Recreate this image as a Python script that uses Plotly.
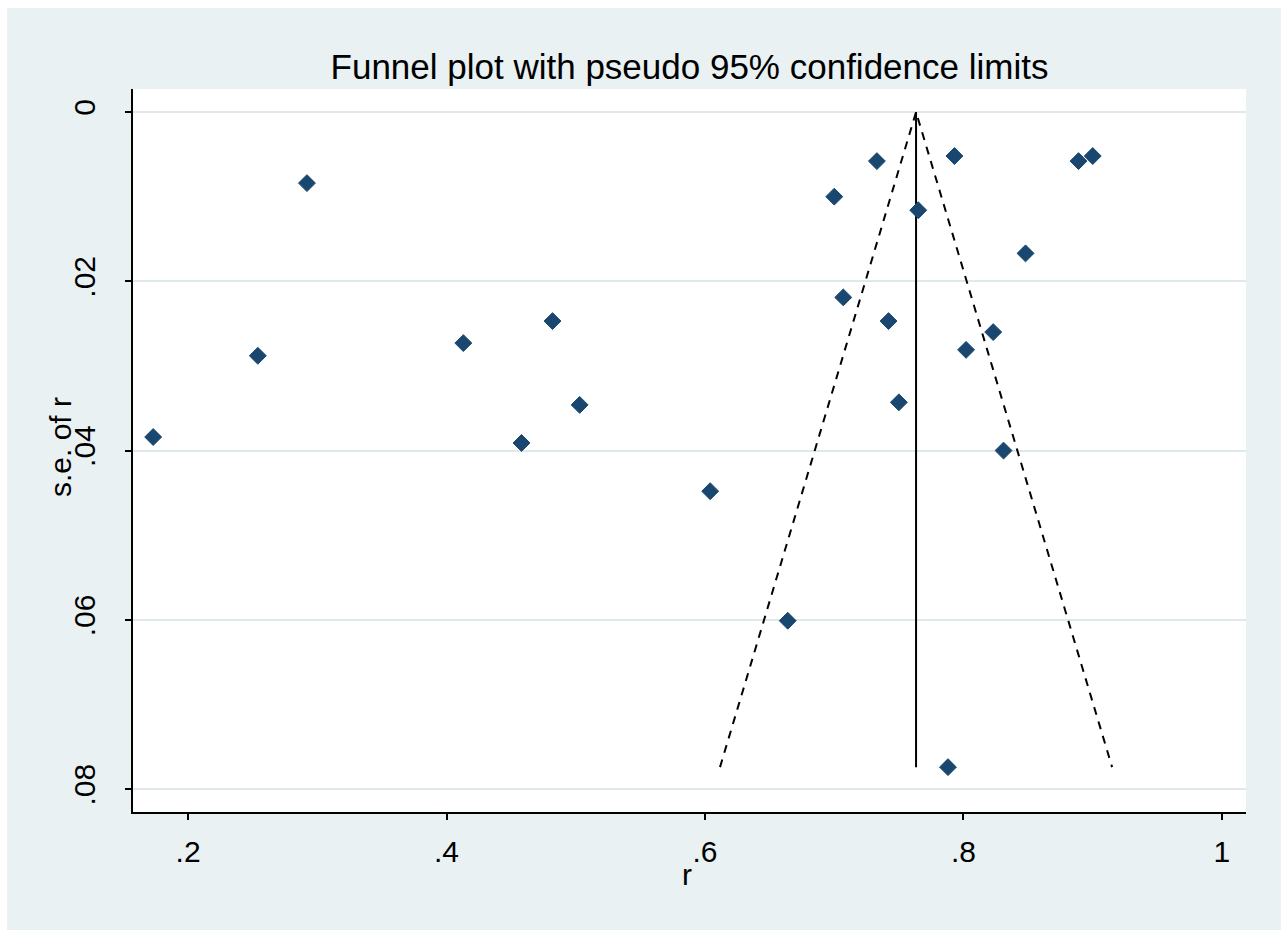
import plotly.graph_objects as go

# Study effect sizes (r) and their standard errors
r_values = [0.173, 0.254, 0.292, 0.413, 0.458, 0.482, 0.503, 0.604, 0.664,
            0.700, 0.707, 0.733, 0.742, 0.750, 0.765, 0.788, 0.793, 0.802,
            0.823, 0.831, 0.848, 0.889, 0.900]
se_values = [0.0384, 0.0288, 0.0084, 0.0273, 0.0391, 0.0247, 0.0346, 0.0448, 0.0601,
             0.0100, 0.0219, 0.0058, 0.0247, 0.0343, 0.0116, 0.0774, 0.0052, 0.0281,
             0.0260, 0.0400, 0.0167, 0.0058, 0.0052]
pooled_r = 0.7633
z95 = 1.96

x_ticks = [0.2, 0.4, 0.6, 0.8, 1.0]
x_tick_labels = [".2", ".4", ".6", ".8", "1"]
y_ticks = [0, 0.02, 0.04, 0.06, 0.08]
y_tick_labels = ["0", ".02", ".04", ".06", ".08"]

se_max = max(se_values)
FONT = "Liberation Sans, Arial, sans-serif"
BG = "#E9F1F3"

fig = go.Figure()

# pseudo 95% confidence limits
fig.add_trace(go.Scatter(
    x=[pooled_r - z95 * se_max, pooled_r, pooled_r + z95 * se_max],
    y=[se_max, 0, se_max],
    mode="lines", line=dict(color="black", width=2, dash="8px,7px"),
    hoverinfo="skip", showlegend=False))
# pooled estimate
fig.add_trace(go.Scatter(
    x=[pooled_r, pooled_r], y=[0, se_max],
    mode="lines", line=dict(color="black", width=2),
    hoverinfo="skip", showlegend=False))
# studies
fig.add_trace(go.Scatter(
    x=r_values, y=se_values, mode="markers",
    marker=dict(symbol="diamond", size=13, color="#1A476F",
                line=dict(color="#1A476F", width=1)),
    showlegend=False))

W, H = 1285, 930
L, R, T, B = 133, 39, 89, 118
pw, ph = W - L - R, H - T - B

def px_x(p):
    return (p - L) / pw

def px_y(p):
    return 1 - (p - T) / ph

# thin white frame around the grey background (top, left, right)
shapes = [
    dict(type="rect", xref="paper", yref="paper", layer="above",
         x0=px_x(-5), x1=px_x(W + 5), y0=px_y(8), y1=px_y(-5),
         fillcolor="white", line=dict(width=0)),
    dict(type="rect", xref="paper", yref="paper", layer="above",
         x0=px_x(-5), x1=px_x(7), y0=px_y(H + 5), y1=px_y(-5),
         fillcolor="white", line=dict(width=0)),
    dict(type="rect", xref="paper", yref="paper", layer="above",
         x0=px_x(1281), x1=px_x(W + 5), y0=px_y(H + 5), y1=px_y(-5),
         fillcolor="white", line=dict(width=0)),
]

annotations = [
    dict(text="s.e. of r", xref="paper", yref="paper",
         x=px_x(60), y=px_y(447), xanchor="center", yanchor="middle",
         textangle=-90, showarrow=False, font=dict(size=30)),
    dict(text="r", xref="paper", yref="paper",
         x=px_x(687), y=px_y(875), xanchor="center", yanchor="middle",
         showarrow=False, font=dict(size=30)),
]

fig.update_layout(
    width=W, height=H,
    margin=dict(l=L, r=R, t=T, b=B, autoexpand=False),
    paper_bgcolor=BG, plot_bgcolor="white",
    font=dict(family=FONT, color="black", size=30),
    title=dict(text="Funnel plot with pseudo 95% confidence limits",
               font=dict(family=FONT, size=35, color="black"),
               x=(L + pw / 2) / W, xanchor="center",
               y=1 - 67 / H, yanchor="middle", yref="container"),
    shapes=shapes,
    annotations=annotations,
    xaxis=dict(range=[0.1574, 1.0186], tickvals=x_ticks, ticktext=x_tick_labels,
               showgrid=False, zeroline=False, showline=True, linecolor="black",
               linewidth=2, ticks="outside", ticklen=6, tickwidth=2, tickcolor="black",
               tickfont=dict(size=30), ticklabelstandoff=6),
    yaxis=dict(range=[0.0827, -0.00272], tickvals=y_ticks, ticktext=y_tick_labels,
               showgrid=True, gridcolor="#DFE9EC", gridwidth=1.5,
               zeroline=False, showline=True, linecolor="black", linewidth=2,
               ticks="outside", ticklen=6, tickwidth=2, tickcolor="black",
               tickangle=-90, tickfont=dict(size=30), ticklabelstandoff=18),
)

fig.write_html("out.html")
